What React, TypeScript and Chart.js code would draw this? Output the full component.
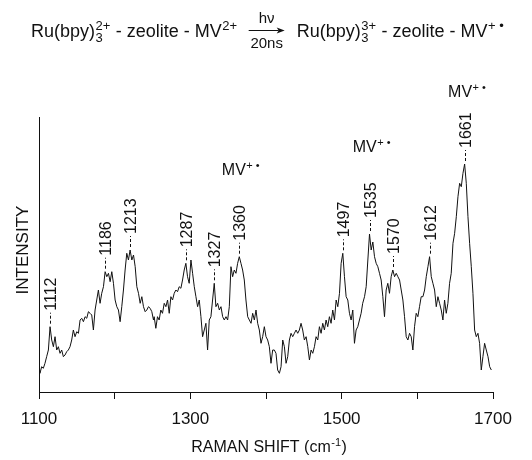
import React, { useEffect, useRef } from "react";
import { Chart, registerables } from "chart.js";

Chart.register(...registerables);

// ---- data ----
const ramanShift = [
  1099.1, 1101.3, 1103.5, 1105.7, 1107.9, 1110.1, 1112.4, 1114.6, 1116.8, 1119.0,
  1121.2, 1123.4, 1125.6, 1127.8, 1130.0, 1132.2, 1134.4, 1136.6, 1138.8, 1141.0,
  1143.2, 1145.4, 1147.6, 1149.9, 1152.1, 1154.3, 1156.5, 1158.7, 1160.9, 1163.1,
  1165.3, 1167.5, 1169.7, 1171.9, 1174.1, 1176.3, 1178.5, 1180.7, 1182.9, 1185.2,
  1187.4, 1189.6, 1191.8, 1194.0, 1196.2, 1198.4, 1200.6, 1202.8, 1205.0, 1207.2,
  1209.4, 1211.6, 1213.8, 1216.0, 1218.2, 1220.4, 1222.7, 1224.9, 1227.1, 1229.3,
  1231.5, 1233.7, 1235.9, 1238.1, 1240.3, 1242.5, 1244.7, 1246.9, 1249.1, 1251.3,
  1252.2, 1254.4, 1256.6, 1258.8, 1261.0, 1263.2, 1265.5, 1267.7, 1269.9, 1272.1,
  1274.3, 1276.5, 1278.7, 1280.9, 1283.1, 1285.3, 1287.5, 1289.7, 1291.9, 1294.1,
  1296.3, 1298.5, 1300.8, 1303.0, 1305.2, 1307.4, 1309.6, 1311.8, 1314.0, 1316.2,
  1318.4, 1320.6, 1322.8, 1325.0, 1327.2, 1329.4, 1331.6, 1333.8, 1336.1, 1338.3,
  1340.5, 1342.7, 1344.9, 1347.1, 1349.3, 1351.5, 1353.7, 1355.9, 1358.1, 1360.3,
  1362.5, 1364.7, 1366.9, 1369.1, 1371.3, 1373.5, 1375.8, 1378.0, 1380.2, 1382.4,
  1384.6, 1386.8, 1389.0, 1391.2, 1393.4, 1395.6, 1397.8, 1400.0, 1402.2, 1404.4,
  1406.6, 1408.8, 1411.0, 1413.2, 1415.4, 1417.7, 1419.9, 1422.1, 1424.3, 1426.5,
  1428.7, 1430.9, 1433.1, 1435.3, 1437.5, 1439.7, 1441.9, 1444.1, 1446.3, 1448.5,
  1450.7, 1453.0, 1455.2, 1457.4, 1459.6, 1461.8, 1464.0, 1466.2, 1468.4, 1470.6,
  1472.8, 1475.0, 1477.2, 1479.4, 1481.6, 1483.8, 1486.0, 1488.2, 1490.5, 1492.7,
  1494.9, 1497.1, 1499.3, 1501.5, 1503.7, 1505.9, 1508.1, 1510.3, 1512.5, 1514.7,
  1516.9, 1519.1, 1521.3, 1523.5, 1525.7, 1527.8, 1530.2, 1532.4, 1534.6, 1536.8,
  1539.0, 1541.2, 1543.4, 1545.6, 1547.8, 1550.0, 1552.2, 1554.4, 1556.6, 1558.8,
  1561.0, 1563.2, 1565.4, 1567.6, 1569.9, 1572.1, 1574.3, 1576.5, 1578.7, 1580.9,
  1583.1, 1585.3, 1587.5, 1589.7, 1591.9, 1594.1, 1596.3, 1598.5, 1600.7, 1602.9,
  1605.1, 1607.4, 1609.6, 1611.8, 1614.0, 1616.2, 1618.4, 1620.6, 1622.8, 1625.0,
  1627.2, 1629.4, 1631.6, 1633.8, 1636.0, 1638.2, 1640.4, 1642.6, 1644.8, 1647.1,
  1649.3, 1651.5, 1653.7, 1655.9, 1658.1, 1660.3, 1662.5, 1664.7, 1666.9, 1669.1,
  1671.3, 1673.5, 1675.7, 1677.9, 1680.1, 1682.3, 1684.5, 1686.7, 1688.9, 1691.1,
  1693.4, 1695.6, 1697.8,
];

const intensity = [
  27, 18.7, 25.3, 23.7, 28.7, 35.3, 42, 65.3, 52, 45.3,
  55.3, 42, 45.3, 38.7, 42, 35.3, 37, 40.3, 42, 45.3,
  52, 62, 55.3, 60.3, 58.7, 72, 73.7, 70.3, 75.3, 73.7,
  80.3, 78.7, 77, 62, 82, 92, 102, 88.7, 98.7, 105.3,
  120.3, 115.3, 118.7, 110.3, 120.3, 108.7, 92, 85.3, 82, 70.3,
  85.3, 102, 122, 138.7, 132, 142, 132, 137, 125.3, 105.3,
  98.7, 88.7, 95.3, 85.3, 80.3, 82, 85.3, 83.7, 80.3, 72,
  75.3, 63.7, 75.3, 72, 82, 78.7, 88.7, 85.3, 92, 78.7,
  95.3, 92, 98.7, 102, 100.3, 105.3, 103.7, 112, 122, 128.7,
  115.3, 108.7, 132, 118.7, 105.3, 95.3, 85.3, 92, 75.3, 55.3,
  62, 68.7, 42, 72, 75.3, 92, 108.7, 85.3, 88.7, 82,
  85.3, 75.3, 72, 75.3, 72, 85.3, 125.3, 115.3, 122, 118.7,
  128.7, 135.3, 128.7, 122, 112, 92, 75.3, 72, 68.7, 78.7,
  72, 82, 68.7, 62, 48.7, 55.3, 65.3, 55.3, 52, 45.3,
  28.7, 42, 42, 38.7, 22, 18.7, 25.3, 52, 45.3, 28.7,
  35.3, 52, 58.7, 55.3, 58.7, 62, 58.7, 62, 68.7, 62,
  52, 55.3, 45.3, 32, 42, 38.7, 45.3, 55.3, 52, 65.3,
  58.7, 68.7, 62, 72, 65.3, 75.3, 68.7, 82, 72, 92,
  85.3, 98.7, 128.7, 138.7, 115.3, 95.3, 92, 78.7, 72, 82,
  48.7, 62, 65.3, 72, 78.7, 88.7, 95.3, 105.3, 132, 158,
  142, 150, 135.3, 128.7, 125.3, 118.7, 112, 95.3, 75.3, 102,
  108.7, 98.7, 115.3, 122, 115.3, 118.7, 115.3, 112, 102, 92,
  75.3, 55.3, 52, 58.7, 55.3, 42, 65.3, 78.7, 75.3, 85.3,
  95.3, 95.3, 102, 115.3, 125.3, 135.3, 115.3, 108.7, 102, 85.3,
  95.3, 88.7, 82, 72, 92, 78.7, 88.7, 108.7, 118.7, 148.7,
  158.7, 175.3, 195.3, 208.7, 205.3, 218.7, 228, 208.7, 175.3, 148.7,
  125.3, 98.7, 62, 55.3, 58.7, 48.7, 22, 35.3, 48.7, 42,
  35.3, 25.3, 22,
];

const peakLabels = [1112, 1186, 1213, 1287, 1327, 1360, 1497, 1535, 1570, 1612, 1661];
const mvLabelShift = [1367, 1540, 1666];
const mvLabelLevel = [217, 240, 295];
const xTickLabels = [1100, 1300, 1500, 1700];

const FONT = '"Liberation Sans", Arial, Helvetica, sans-serif';
const INK = "#111";

type Run = { n?: string; sub?: string; sup?: string };

function runWidth(ctx: CanvasRenderingContext2D, runs: Run[], size: number, small: number) {
  let w = 0;
  for (const r of runs) {
    if (r.n !== undefined) {
      ctx.font = `${size}px ${FONT}`;
      w += ctx.measureText(r.n).width;
    } else {
      ctx.font = `${small}px ${FONT}`;
      const a = r.sub ? ctx.measureText(r.sub).width : 0;
      const b = r.sup ? ctx.measureText(r.sup).width : 0;
      w += Math.max(a, b) + 1;
    }
  }
  return w;
}

function drawRuns(ctx: CanvasRenderingContext2D, x: number, y: number, runs: Run[], size: number, small: number) {
  ctx.textBaseline = "alphabetic";
  ctx.textAlign = "left";
  for (const r of runs) {
    if (r.n !== undefined) {
      ctx.font = `${size}px ${FONT}`;
      ctx.fillText(r.n, x, y);
      x += ctx.measureText(r.n).width;
    } else {
      ctx.font = `${small}px ${FONT}`;
      let w = 0;
      if (r.sub) {
        ctx.fillText(r.sub, x + 0.5, y + size * 0.3);
        w = Math.max(w, ctx.measureText(r.sub).width);
      }
      if (r.sup) {
        ctx.fillText(r.sup, x + 0.5, y - size * 0.35);
        w = Math.max(w, ctx.measureText(r.sup).width);
      }
      x += w + 1;
    }
  }
  return x;
}

const annotations = {
  id: "ramanAnnotations",
  afterDraw(chart: any) {
    const ctx: CanvasRenderingContext2D = chart.ctx;
    const xs = chart.scales.x;
    const ys = chart.scales.y;
    ctx.save();
    ctx.fillStyle = INK;
    ctx.strokeStyle = INK;

    // title reaction scheme
    const left: Run[] = [{ n: "Ru(bpy)" }, { sub: "3", sup: "2+" }, { n: " - zeolite - MV" }, { sup: "2+" }];
    const right: Run[] = [{ n: "Ru(bpy)" }, { sub: "3", sup: "3+" }, { n: " - zeolite - MV" }, { sup: "+ \u2022" }];
    const base = 36.5;
    const x = drawRuns(ctx, 31, base, left, 18, 13);
    const a0 = x + 11;
    const a1 = a0 + 36;
    const ay = 30.5;
    ctx.lineWidth = 1;
    ctx.setLineDash([]);
    ctx.beginPath();
    ctx.moveTo(a0, ay);
    ctx.lineTo(a1 - 6, ay);
    ctx.stroke();
    ctx.beginPath();
    ctx.moveTo(a1, ay);
    ctx.lineTo(a1 - 8, ay - 3);
    ctx.lineTo(a1 - 6, ay);
    ctx.lineTo(a1 - 8, ay + 3);
    ctx.closePath();
    ctx.fill();
    ctx.font = `15px ${FONT}`;
    ctx.textAlign = "center";
    ctx.fillText("h\u03bd", (a0 + a1) / 2, 23);
    ctx.fillText("20ns", (a0 + a1) / 2, 48);
    drawRuns(ctx, a1 + 12, base, right, 18, 13);

    // peak labels: dashed marker + rotated wavenumber above local maximum
    for (const lab of peakLabels) {
      let best = -1;
      for (let i = 0; i < ramanShift.length; i++) {
        const s = ramanShift[i];
        if (s >= lab - 4 && s <= lab + 8 && (best < 0 || intensity[i] > intensity[best])) best = i;
      }
      const px = Math.round(xs.getPixelForValue(ramanShift[best])) + 0.5;
      const py = ys.getPixelForValue(intensity[best]);
      ctx.lineWidth = 1;
      ctx.setLineDash([3, 2]);
      ctx.beginPath();
      ctx.moveTo(px, py - 3);
      ctx.lineTo(px, py - 14);
      ctx.stroke();
      ctx.setLineDash([]);
      ctx.save();
      ctx.translate(px, py - 16);
      ctx.rotate(-Math.PI / 2);
      ctx.font = `16px ${FONT}`;
      ctx.textAlign = "left";
      ctx.textBaseline = "middle";
      ctx.fillText(String(lab), 0, 1);
      ctx.restore();
    }

    // MV+• assignments
    const mv: Run[] = [{ n: "MV" }, { sup: "+ \u2022" }];
    for (let i = 0; i < mvLabelShift.length; i++) {
      const cx = xs.getPixelForValue(mvLabelShift[i]);
      const by = ys.getPixelForValue(mvLabelLevel[i]);
      const w = runWidth(ctx, mv, 16, 11);
      drawRuns(ctx, cx - w / 2, by, mv, 16, 11);
    }

    // axis titles
    const at: Run[] = [{ n: "RAMAN SHIFT (cm" }, { sup: "-1" }, { n: ")" }];
    const tw = runWidth(ctx, at, 16, 11);
    drawRuns(ctx, 269 - tw / 2, 452, at, 16, 11);

    ctx.save();
    ctx.translate(28, 250);
    ctx.rotate(-Math.PI / 2);
    ctx.font = `17px ${FONT}`;
    ctx.textAlign = "center";
    ctx.textBaseline = "alphabetic";
    ctx.fillText("INTENSITY", 0, 0);
    ctx.restore();

    ctx.restore();
  },
};

export default function App() {
  const ref = useRef<HTMLCanvasElement | null>(null);

  useEffect(() => {
    if (!ref.current) return;
    const chart = new Chart(ref.current, {
      type: "line",
      data: {
        datasets: [
          {
            data: ramanShift.map((s, i) => ({ x: s, y: intensity[i] })),
            borderColor: INK,
            borderWidth: 1,
            pointRadius: 0,
            tension: 0,
            fill: false,
          },
        ],
      },
      options: {
        animation: false,
        responsive: false,
        devicePixelRatio: 1,
        events: [],
        layout: { padding: { top: 117, right: 39, bottom: 0, left: 0 } },
        plugins: { legend: { display: false }, tooltip: { enabled: false }, title: { display: false } },
        scales: {
          x: {
            type: "linear",
            min: 1100,
            max: 1700,
            afterFit: (s: any) => {
              s.height = 68;
            },
            ticks: {
              stepSize: 100,
              autoSkip: false,
              maxRotation: 0,
              padding: 10,
              color: INK,
              font: { family: FONT, size: 17 },
              callback: (v: any) => (xTickLabels.includes(Number(v)) ? String(v) : ""),
            },
            grid: { display: true, drawOnChartArea: false, drawTicks: true, tickLength: 7, color: INK, lineWidth: 1 },
            border: { display: true, color: INK, width: 1 },
          },
          y: {
            min: 0,
            max: 275,
            afterFit: (s: any) => {
              s.width = 39;
            },
            ticks: { display: false },
            grid: { display: false },
            border: { display: true, color: INK, width: 1 },
          },
        },
      },
      plugins: [annotations],
    });
    return () => chart.destroy();
  }, []);

  return (
    <div style={{ position: "fixed", left: 0, top: 0, width: 532, height: 460, background: "#fff" }}>
      <canvas ref={ref} width={532} height={460} style={{ display: "block", width: 532, height: 460 }} />
    </div>
  );
}
